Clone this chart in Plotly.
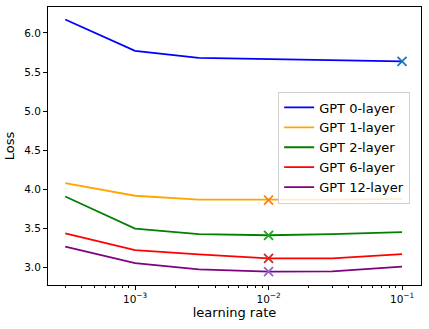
import plotly.graph_objects as go

lr = [3e-4, 1e-3, 3e-3, 1e-2, 3e-2, 1e-1]
names = ["GPT 0-layer", "GPT 1-layer", "GPT 2-layer", "GPT 6-layer", "GPT 12-layer"]
loss_0 = [6.17, 5.77, 5.68, 5.665, 5.65, 5.635]
loss_1 = [4.08, 3.92, 3.87, 3.865, 3.87, 3.88]
loss_2 = [3.91, 3.50, 3.43, 3.415, 3.43, 3.455]
loss_6 = [3.44, 3.225, 3.17, 3.12, 3.12, 3.175]
loss_12 = [3.27, 3.06, 2.98, 2.95, 2.955, 3.015]
best_lr = [1e-1, 1e-2, 1e-2, 1e-2, 1e-2]
best_loss = [5.635, 3.865, 3.415, 3.12, 2.95]

line_colors = ["blue", "orange", "green", "red", "purple"]
marker_colors = ["#1f77b4", "#ff7f0e", "#2ca02c", "#d62728", "#9467bd"]

fig = go.Figure()
for name, ys, c in zip(names, [loss_0, loss_1, loss_2, loss_6, loss_12], line_colors):
    fig.add_trace(go.Scatter(x=lr, y=ys, mode="lines", name=name,
                             line=dict(color=c, width=1.8)))
# x marks at the lowest loss of each model
for bx, by, c in zip(best_lr, best_loss, marker_colors):
    fig.add_trace(go.Scatter(x=[bx], y=[by], mode="markers", showlegend=False,
                             marker=dict(symbol="x-thin", size=9, color=c,
                                         line=dict(color=c, width=1.8))))

fig.update_layout(
    width=429, height=329,
    margin=dict(l=48, r=8, t=7, b=44),
    plot_bgcolor="white", paper_bgcolor="white",
    font=dict(family="DejaVu Sans", size=10.5, color="black"),
    legend=dict(x=0.617, y=0.696, xanchor="left", yanchor="top",
                bgcolor="rgba(255,255,255,0.8)", bordercolor="#d0d0d0", borderwidth=1,
                font=dict(size=13), itemwidth=30, tracegroupgap=0),
)
fig.update_xaxes(
    type="log", range=[-3.652, -0.858],
    tickvals=[1e-3, 1e-2, 1e-1],
    ticktext=["10<sup>\u22123</sup>", "10<sup>\u22122</sup>", "10<sup>\u22121</sup>"],
    ticks="outside", ticklen=4, tickcolor="black",
    minor=dict(ticks="outside", ticklen=2, tickcolor="black",
               tickvals=[m * 10.0 ** e for e in (-4, -3, -2) for m in range(2, 10)]),
    showline=True, mirror=True, linecolor="black", linewidth=1,
    showgrid=False, zeroline=False,
    title=dict(text="learning rate", font=dict(size=13), standoff=4),
)
fig.update_yaxes(
    range=[2.78, 6.33], tickvals=[3.0, 3.5, 4.0, 4.5, 5.0, 5.5, 6.0], tickformat=".1f",
    ticks="outside", ticklen=4, tickcolor="black",
    showline=True, mirror=True, linecolor="black", linewidth=1,
    showgrid=False, zeroline=False,
    title=dict(text="Loss", font=dict(size=13), standoff=6),
)

fig.write_html("out.html", config={"displayModeBar": False},
               post_script="document.body.style.margin='0';")
